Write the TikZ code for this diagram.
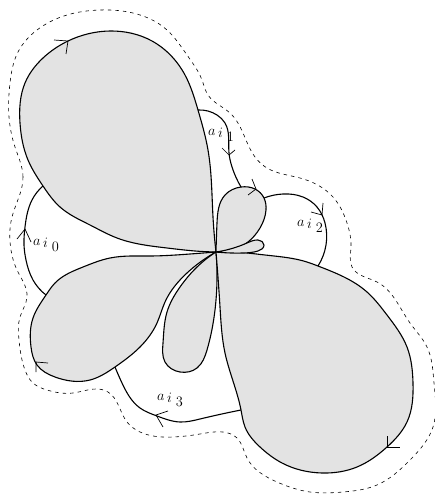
\documentclass[tikz,border=0pt]{standalone}
\usepackage{amsmath, amssymb}
\usetikzlibrary{positioning, calc, hobby}

\newcommand{\ailabel}[1]{$a$\raisebox{-2.5pt}{$\,i$}\raisebox{-6pt}{$\;#1$}}

\begin{document}
\begin{tikzpicture}[
    x=1pt, y=-1pt,
    use Hobby shortcut,
    petal/.style={draw, line width=1.1pt, fill=black!11},
    arc_line/.style={draw, line width=1.1pt},
    tip_line/.style={draw, line width=0.7pt},
    outer_line/.style={draw, line width=0.6pt, dash pattern=on 3.5pt off 4pt},
    lbl_node/.style={inner sep=0pt, font=\fontsize{13.5}{15}\selectfont}
    ]
    \useasboundingbox (0,0) rectangle (435,495);

    % Junctions
    \coordinate (o) at (216,252);
    \coordinate (j1a) at (198,110);
    \coordinate (j1b) at (241,187);
    \coordinate (j2a) at (264,198);
    \coordinate (j2b) at (318,266);
    \coordinate (j0a) at (43,186);
    \coordinate (j0b) at (46,295);
    \coordinate (j3a) at (115,367);
    \coordinate (j3b) at (241,410);

    % Petals
    \path[petal] (o) .. (195,251) .. (167,248) .. (117,238) .. (90,225) .. (60,207) .. (j0a) .. (28,160) .. (20,123) .. (25,83) .. (43,58) .. (68,41) .. (110,31) .. (152,41) .. (185,75) .. (j1a) .. (208,150) .. (213,217) .. (o);
    \path[petal] (o) .. (190,254) .. (150,256) .. (110,258) .. (83,267) .. (55,283) .. (j0b) .. (33,318) .. (31,347) .. (37,365) .. (55,377) .. (90,380) .. (j3a) .. (140,347) .. (157,323) .. (165,302) .. (187,273) .. (o);
    \path[petal] (o) .. (197,267) .. (180,287) .. (167,312) .. (163,343) .. (165,362) .. (180,372) .. (197,368) .. (207,350) .. (215,310) .. (o);
    \path[petal] (o) .. (235,252) .. (265,255) .. (307,262) .. (j2b) .. (367,292) .. (387,315) .. (407,347) .. (413,383) .. (407,422) .. (387,447) .. (357,467) .. (322,473) .. (282,463) .. (260,447) .. (245,427) .. (j3b) .. (225,353) .. (220,307) .. (o);
    \path[petal] (o) .. (217,223) .. (225,195) .. (j1b) .. (255,189) .. (j2a) .. (266,210) .. (260,228) .. (248,242) .. (o);
    \path[petal] (o) .. (247,243) .. (258,240) .. (264,245) .. (258,251) .. (243,253) .. (o);

    % Arcs
    \draw[arc_line] (j1a) .. (217,115) .. (225,123) .. (229,153) .. (232,167) .. (j1b);
    \draw[arc_line] (j2a) .. (283,194) .. (303,197) .. (317,207) .. (325,223) .. (326,245) .. (j2b);
    \draw[arc_line] (j0a) .. (32,200) .. (25,227) .. (24,245) .. (26,260) .. (33,280) .. (j0b);
    \draw[arc_line] (j3a) .. (122,383) .. (140,408) .. (157,416) .. (180,422) .. (200,419) .. (j3b);

    % Outer boundary
    \draw[outer_line] ([closed]23,177) .. (15,147) .. (9,117) .. (10,83) .. (18,52) .. (37,30) .. (67,15) .. (100,10) .. (133,13) .. (167,30) .. (187,55) .. (202,80) .. (208,95) .. (230,113) .. (243,133) .. (255,157) .. (267,168) .. (300,178) .. (333,197) .. (347,223) .. (351,247) .. (352,267) .. (377,282) .. (410,323) .. (427,347) .. (434,383) .. (433,427) .. (410,460) .. (377,485) .. (343,492) .. (310,492) .. (277,482) .. (247,458) .. (237,438) .. (223,432) .. (200,434) .. (173,437) .. (140,432) .. (127,422) .. (108,392) .. (97,389) .. (73,393) .. (47,390) .. (33,383) .. (25,370) .. (19,340) .. (20,317) .. (27,297) .. (17,270) .. (11,250) .. (12,217);

    % Tips
    \draw[tip_line] (54,40) -- (68,41) -- (66,54);
    \draw[tip_line] (222,148) -- (229,155) -- (235,150);
    \draw[tip_line] (252,179) -- (256,189) -- (248,195);
    \draw[tip_line] (311,212) -- (322,215) -- (323,203);
    \draw[tip_line] (17,239) -- (25,229) -- (31,242);
    \draw[tip_line] (168,411) -- (156,415) -- (163,427);
    \draw[tip_line] (48,363) -- (36,362) -- (36,372);
    \draw[tip_line] (387,436) -- (387,447) -- (400,447);

    % Labels
    \node[lbl_node, anchor=west] (a0) at (33,245) {\ailabel{0}};
    \node[lbl_node, anchor=west] (a1) at (208,135) {\ailabel{1}};
    \node[lbl_node, anchor=west] (a2) at (297,226) {\ailabel{2}};
    \node[lbl_node, anchor=west] (a3) at (157,400) {\ailabel{3}};
\end{tikzpicture}
\end{document}
